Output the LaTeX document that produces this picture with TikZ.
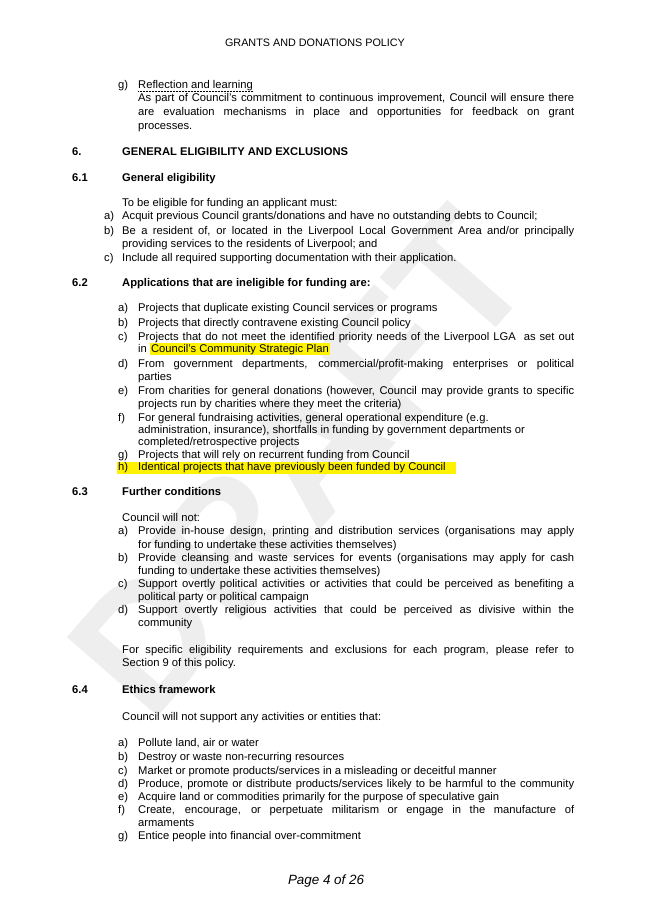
\documentclass[tikz,border=0pt]{standalone}
\usepackage{fontspec}
\setmainfont{Liberation Sans}
\newcommand{\J}[1]{\makebox[452pt][s]{#1}}
\newcommand{\JJ}[1]{\makebox[436pt][s]{#1}}
\newcommand{\HL}[1]{\colorbox{yellow}{#1}}
\begin{document}
\begin{tikzpicture}[x=1pt,y=1pt,
  t/.style={anchor=base west,inner sep=0pt,font=\fontsize{11.2}{13}\selectfont},
  b/.style={t,font=\fontsize{11.2}{13}\selectfont\bfseries}]
\useasboundingbox (0,0) rectangle (653,-923);
\fill[white] (0,0) rectangle (653,-923);
% watermark
\node[rotate=49,text=gray!13,font=\fontsize{175}{175}\selectfont\bfseries,inner sep=0pt] (wm) at (300,-462) {DRAFT};
\node[anchor=base,inner sep=0pt,font=\fontsize{10.8}{13}\selectfont] (hdr) at (315,-47) {GRANTS AND DONATIONS POLICY};
\node[t] (g1) at (118,-89) {g)};
\node[t] (g1t) at (138,-89) {Reflection and learning};
\draw[densely dotted,line width=0.5pt] ([yshift=-2pt]g1t.base west) -- ([yshift=-2pt]g1t.base east);
\node[t] (g1a) at (138,-102) {\JJ{As part of Council's commitment to continuous improvement, Council will ensure there}};
\node[t] (g1b) at (138,-116) {\JJ{are evaluation mechanisms in place and opportunities for feedback on grant}};
\node[t] (g1c) at (138,-130) {processes.};
\node[b] (s6) at (72,-155) {6.};
\node[b] (s6t) at (122,-155) {GENERAL ELIGIBILITY AND EXCLUSIONS};
\node[b] (s61) at (72,-181) {6.1};
\node[b] (s61t) at (122,-181) {General eligibility};
\node[t] (p1) at (122,-206) {To be eligible for funding an applicant must:};
\node[t] (a1) at (104,-219) {a)};
\node[t] (a1t) at (122,-219) {Acquit previous Council grants/donations and have no outstanding debts to Council;};
\node[t] (b1) at (104,-234) {b)};
\node[t] (b1t) at (122,-234) {\J{Be a resident of, or located in the Liverpool Local Government Area and/or principally}};
\node[t] (b1u) at (122,-247) {providing services to the residents of Liverpool; and};
\node[t] (c1) at (104,-261) {c)};
\node[t] (c1t) at (122,-261) {Include all required supporting documentation with their application.};
\node[b] (s62) at (72,-286) {6.2};
\node[b] (s62t) at (122,-286) {Applications that are ineligible for funding are:};
\node[t] (a2) at (118,-311) {a)};
\node[t] (a2t) at (138,-311) {Projects that duplicate existing Council services or programs};
\node[t] (b2) at (118,-326) {b)};
\node[t] (b2t) at (138,-326) {Projects that directly contravene existing Council policy};
\node[t] (c2) at (118,-340) {c)};
\node[t] (c2t) at (138,-340) {\JJ{Projects that do not meet the identified priority needs of the Liverpool LGA \ as set out}};
\node[t] (c2u) at (138,-352) {in {\setlength{\fboxsep}{1pt}\HL{Council's Community Strategic Plan}}};
\node[t] (d2) at (118,-367) {d)};
\node[t] (d2t) at (138,-367) {\JJ{From government departments, commercial/profit-making enterprises or political}};
\node[t] (d2u) at (138,-380) {parties};
\node[t] (e2) at (118,-394) {e)};
\node[t] (e2t) at (138,-394) {\JJ{From charities for general donations (however, Council may provide grants to specific}};
\node[t] (e2u) at (138,-407) {projects run by charities where they meet the criteria)};
\node[t] (f2) at (118,-421) {f)};
\node[t] (f2t) at (138,-421) {For general fundraising activities, general operational expenditure (e.g.};
\node[t] (f2u) at (138,-433) {administration, insurance), shortfalls in funding by government departments or};
\node[t] (f2v) at (138,-445) {completed/retrospective projects};
\node[t] (g2) at (118,-458) {g)};
\node[t] (g2t) at (138,-458) {Projects that will rely on recurrent funding from Council};
\fill[yellow] (117,-462) rectangle (456,-474);
\node[t] (h2) at (118,-470) {h)};
\node[t] (h2t) at (138,-470) {Identical projects that have previously been funded by Council};
\node[b] (s63) at (72,-495) {6.3};
\node[b] (s63t) at (122,-495) {Further conditions};
\node[t] (p3) at (122,-521) {Council will not:};
\node[t] (a3) at (118,-534) {a)};
\node[t] (a3t) at (138,-534) {\JJ{Provide in-house design, printing and distribution services (organisations may apply}};
\node[t] (a3u) at (138,-548) {for funding to undertake these activities themselves)};
\node[t] (b3) at (118,-561) {b)};
\node[t] (b3t) at (138,-561) {\JJ{Provide cleansing and waste services for events (organisations may apply for cash}};
\node[t] (b3u) at (138,-574) {funding to undertake these activities themselves)};
\node[t] (c3) at (118,-587) {c)};
\node[t] (c3t) at (138,-587) {\JJ{Support overtly political activities or activities that could be perceived as benefiting a}};
\node[t] (c3u) at (138,-600) {political party or political campaign};
\node[t] (d3) at (118,-613) {d)};
\node[t] (d3t) at (138,-613) {\JJ{Support overtly religious activities that could be perceived as divisive within the}};
\node[t] (d3u) at (138,-626) {community};
\node[t] (p4) at (122,-653) {\J{For specific eligibility requirements and exclusions for each program, please refer to}};
\node[t] (p4u) at (122,-666) {Section 9 of this policy.};
\node[b] (s64) at (72,-693) {6.4};
\node[b] (s64t) at (122,-693) {Ethics framework};
\node[t] (p5) at (122,-720) {Council will not support any activities or entities that:};
\node[t] (a5) at (118,-746) {a)};
\node[t] (a5t) at (138,-746) {Pollute land, air or water};
\node[t] (b5) at (118,-760) {b)};
\node[t] (b5t) at (138,-760) {Destroy or waste non-recurring resources};
\node[t] (c5) at (118,-774) {c)};
\node[t] (c5t) at (138,-774) {Market or promote products/services in a misleading or deceitful manner};
\node[t] (d5) at (118,-787) {d)};
\node[t] (d5t) at (138,-787) {\JJ{Produce, promote or distribute products/services likely to be harmful to the community}};
\node[t] (e5) at (118,-800) {e)};
\node[t] (e5t) at (138,-800) {Acquire land or commodities primarily for the purpose of speculative gain};
\node[t] (f5) at (118,-813) {f)};
\node[t] (f5t) at (138,-813) {\JJ{Create, encourage, or perpetuate militarism or engage in the manufacture of}};
\node[t] (f5u) at (138,-826) {armaments};
\node[t] (g5) at (118,-839) {g)};
\node[t] (g5t) at (138,-839) {Entice people into financial over-commitment};
\node[anchor=base,inner sep=0pt,font=\fontsize{13.4}{15}\selectfont\itshape] (pg) at (326,-884) {Page 4 of 26};
\end{tikzpicture}
\end{document}
